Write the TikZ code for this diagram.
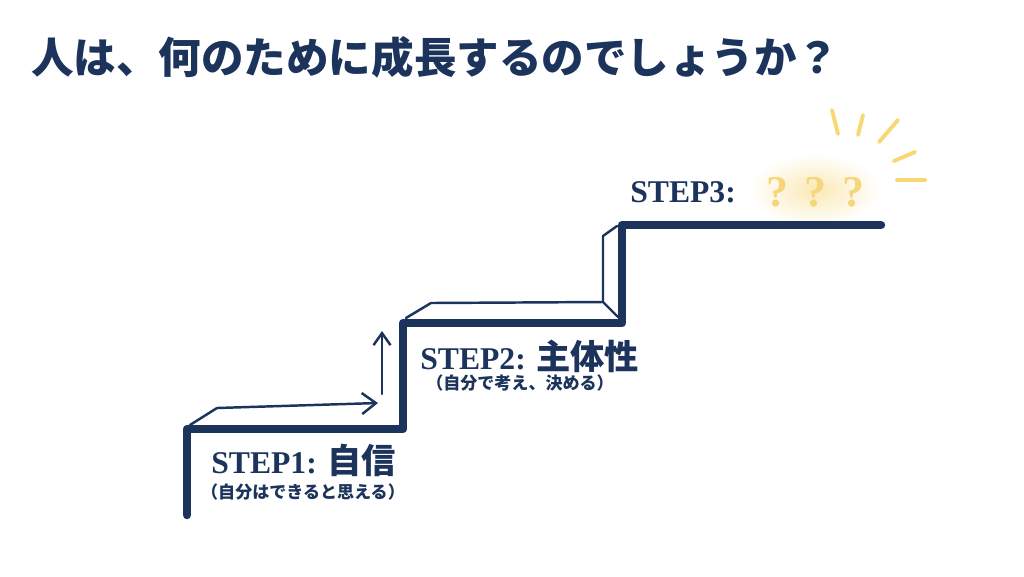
\documentclass[tikz,border=0pt]{standalone}
\usepackage{fontspec}
\setmainfont{Liberation Serif}
\newfontfamily\jp{Noto Sans CJK JP}
\usetikzlibrary{arrows.meta}
\definecolor{navy}{HTML}{1C345C}
\definecolor{ray}{HTML}{F7D872}
\definecolor{qm}{HTML}{F6D67A}
\tikzset{
  thickstair/.style={draw=navy, line width=4.8pt, line cap=round, line join=round},
  thinstair/.style={draw=navy, line width=1.4pt, line cap=round, line join=round},
  raystroke/.style={draw=ray, line width=2.2pt, line cap=round},
  steplabel/.style={text=navy, font=\bfseries\fontsize{18}{20}\selectfont, inner sep=0pt},
  sublabel/.style={text=navy, font=\jp\bfseries\fontsize{9.7}{11}\selectfont, inner sep=0pt},
  qmark/.style={text=qm, font=\bfseries\fontsize{25}{27}\selectfont, inner sep=0pt},
}
\newcommand{\jpbig}{\jp\fontsize{19.5}{21}\selectfont}
\begin{document}
\begin{tikzpicture}[x=0.02cm,y=-0.02cm]
\useasboundingbox (0,0) rectangle (1024,576);
\fill[white] (0,0) rectangle (1024,576);

% glow behind question marks (drawn first, under the stair line)
\shade[inner color=qm!55, outer color=white] (815,190) ellipse (66 and 36);

% title
\node[anchor=west, text=navy, inner sep=0pt, font=\jp\bfseries\fontsize{24.2}{26}\selectfont] (title) at (31,57) {人は、何のために成長するのでしょうか？};

% corners of the staircase
\coordinate (s0) at (187,515);
\coordinate (c1) at (187,429);
\coordinate (c1r) at (403,429);
\coordinate (c2) at (403,323);
\coordinate (c2r) at (622,323);
\coordinate (c3) at (622,225);
\coordinate (top) at (881,225);

\path[thickstair] (s0) -- (c1) -- (c1r) -- (c2) -- (c2r) -- (c3) -- (top);

% step 1 top face with arrow
\coordinate (f1a) at (190,425);
\coordinate (f1b) at (217,408);
\coordinate (f1c) at (378,403);
\path[thinstair] (f1a) -- (f1b);
\path[thinstair, -{Straight Barb[length=0.28cm,width=0.42cm,line width=1.4pt]}] (f1b) -- (f1c);

% vertical arrow
\coordinate (va) at (382,394);
\coordinate (vb) at (382,331);
\path[thinstair, -{Straight Barb[length=0.24cm,width=0.34cm,line width=1.4pt]}] (va) -- (vb);

% step 2 top face
\coordinate (f2a) at (406,318);
\coordinate (f2b) at (431,303);
\coordinate (f2c) at (603,302);
\coordinate (f2d) at (618,317);
\path[thinstair] (f2a) -- (f2b) -- (f2c) -- (f2d);

% step 3 riser side
\coordinate (r3a) at (603,236);
\coordinate (r3b) at (617,226);
\path[thinstair] (f2c) -- (r3a) -- (r3b);

% labels
\node[steplabel, anchor=west] (l1) at (211,460) {STEP1: {\jpbig 自信}};
\node[sublabel] (s1) at (303,492) {（自分はできると思える）};
\node[steplabel, anchor=west] (l2) at (420,356) {STEP2: {\jpbig 主体性}};
\node[sublabel] (s2) at (520,383) {（自分で考え、決める）};
\node[steplabel, anchor=west] (l3) at (630,192) {STEP3:};

% question marks
\node[qmark] (q1) at (777,192) {?};
\node[qmark] (q2) at (815,192) {?};
\node[qmark] (q3) at (853,192) {?};

% rays
\coordinate (ra1) at (832,110); \coordinate (rb1) at (838,134);
\coordinate (ra2) at (863,115); \coordinate (rb2) at (858,135);
\coordinate (ra3) at (898,120); \coordinate (rb3) at (879,142);
\coordinate (ra4) at (915,152); \coordinate (rb4) at (894,161);
\coordinate (ra5) at (897,180); \coordinate (rb5) at (925,180);
\path[raystroke] (ra1) -- (rb1);
\path[raystroke] (ra2) -- (rb2);
\path[raystroke] (ra3) -- (rb3);
\path[raystroke] (ra4) -- (rb4);
\path[raystroke] (ra5) -- (rb5);
\end{tikzpicture}
\end{document}
